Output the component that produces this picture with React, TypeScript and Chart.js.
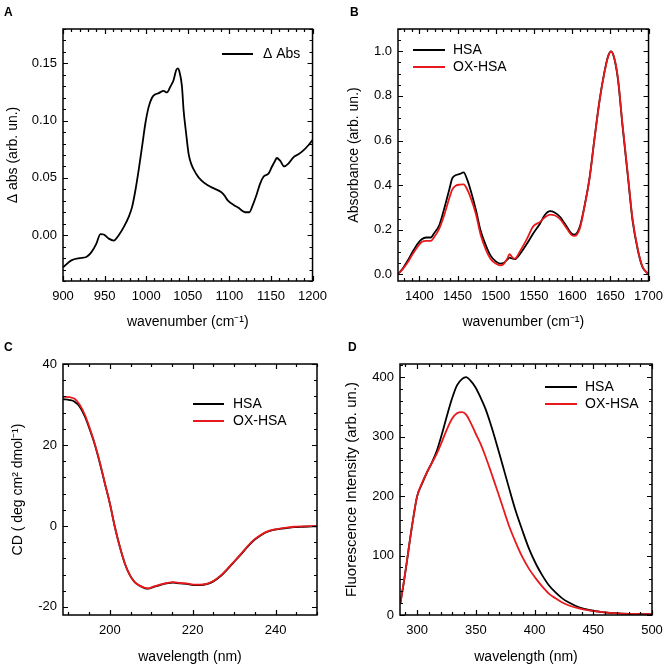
import React, { useEffect, useRef } from "react";
import { Chart, registerables } from "chart.js";

Chart.register(...registerables);

const FONT = "'Liberation Sans', Arial, Helvetica, sans-serif";
Chart.defaults.font.family = FONT;
Chart.defaults.color = "#000000";

const BLACK = "#000000";
const RED = "#e8191c";

// ---------- Panel A : difference spectrum ----------
const aWavenumber = [
  900, 910, 920, 928, 934, 940, 945, 949, 955, 961, 967, 973, 979, 983, 987,
  991, 995, 999, 1003, 1007, 1011, 1015, 1021, 1025, 1029, 1033, 1036, 1038,
  1040, 1043, 1045, 1048, 1051, 1054, 1060, 1066, 1074, 1082, 1090, 1094, 1098,
  1106, 1111, 1115, 1119, 1124, 1128, 1133, 1137, 1141, 1147, 1151, 1155, 1157,
  1161, 1166, 1171, 1177, 1183, 1189, 1195, 1200,
];
const aDeltaAbs = [
  -0.028, -0.022, -0.02, -0.019, -0.015, -0.0076, 0.001, 0.0006, -0.003, -0.0047,
  0.0, 0.007, 0.016, 0.0245, 0.039, 0.057, 0.077, 0.0975, 0.112, 0.12, 0.123,
  0.124, 0.126, 0.1246, 0.1296, 0.1355, 0.144, 0.1457, 0.1427, 0.13, 0.109,
  0.089, 0.071, 0.0625, 0.0537, 0.048, 0.0435, 0.0406, 0.0377, 0.0347, 0.0304,
  0.026, 0.024, 0.0216, 0.02, 0.02, 0.026, 0.036, 0.045, 0.051, 0.0537, 0.0595,
  0.065, 0.0674, 0.065, 0.06, 0.0625, 0.068, 0.0706, 0.074, 0.0785, 0.083,
];
const aXTicks = [900, 950, 1000, 1050, 1100, 1150, 1200];
const aYTicks = [0.0, 0.05, 0.1, 0.15];

// ---------- Panel B : FTIR absorbance ----------
const bWavenumber = [
  1372, 1378, 1385, 1391, 1398, 1403, 1409, 1415, 1419, 1426, 1432, 1439, 1443,
  1448, 1453, 1458, 1462, 1467, 1474, 1480, 1487, 1493, 1500, 1506, 1510, 1515,
  1518, 1522, 1525, 1532, 1541, 1549, 1558, 1564, 1571, 1577, 1584, 1593, 1599,
  1603, 1610, 1616, 1623, 1629, 1636, 1642, 1647, 1651, 1655, 1660, 1666, 1673,
  1679, 1686, 1692, 1700,
];
const bHSA = [
  0.0, 0.025, 0.063, 0.1, 0.138, 0.157, 0.165, 0.165, 0.183, 0.22, 0.288, 0.378,
  0.43, 0.445, 0.45, 0.457, 0.43, 0.378, 0.288, 0.198, 0.13, 0.085, 0.058, 0.048,
  0.05, 0.066, 0.075, 0.07, 0.068, 0.093, 0.138, 0.183, 0.228, 0.265, 0.283,
  0.277, 0.258, 0.213, 0.183, 0.178, 0.213, 0.303, 0.438, 0.603, 0.783, 0.903,
  0.978, 1.0, 0.97, 0.873, 0.663, 0.438, 0.243, 0.108, 0.033, 0.0,
];
const bOXHSA = [
  0.0, 0.022, 0.055, 0.09, 0.125, 0.145, 0.15, 0.15, 0.165, 0.205, 0.26, 0.34,
  0.38, 0.398, 0.402, 0.403, 0.385, 0.345, 0.27, 0.18, 0.11, 0.07, 0.048, 0.04,
  0.045, 0.07, 0.09, 0.075, 0.07, 0.105, 0.16, 0.215, 0.235, 0.255, 0.268, 0.265,
  0.248, 0.205, 0.177, 0.172, 0.205, 0.3, 0.435, 0.6, 0.78, 0.9, 0.975, 1.0,
  0.972, 0.878, 0.67, 0.445, 0.25, 0.112, 0.035, 0.0,
];
const bXTicks = [1400, 1450, 1500, 1550, 1600, 1650, 1700];
const bYTicks = [0.0, 0.2, 0.4, 0.6, 0.8, 1.0];

// ---------- Panel C : circular dichroism ----------
const cWavelength = [
  188.7, 190.3, 191.5, 192.7, 194, 195.2, 196.4, 197.6, 198.8, 200, 201.2, 202.4,
  203.6, 204.8, 206, 207.3, 208.5, 209.3, 210.5, 212.1, 213.7, 215.3, 216.9,
  218.5, 220.2, 221.8, 223.4, 225, 226.6, 228.2, 229.8, 231.5, 233.1, 234.7,
  236.3, 237.9, 239.5, 242, 244.4, 246.8, 250,
];
const cHSA = [
  31.3, 31.1, 30.7, 29.5, 27, 23.7, 20, 15.5, 10.5, 5.6, -0.2, -5.1, -9.2, -12.1,
  -13.9, -14.8, -15.4, -15.5, -15.1, -14.6, -14.2, -14.0, -14.2, -14.3, -14.6,
  -14.6, -14.4, -13.7, -12.5, -10.9, -9.1, -7.2, -5.3, -3.6, -2.4, -1.5, -1.0,
  -0.6, -0.3, -0.2, -0.1,
];
const cOXHSA = [
  31.9, 31.8, 31.4, 30.0, 27.4, 24.0, 20.2, 15.7, 10.6, 5.6, -0.2, -5.1, -9.2,
  -12.1, -13.9, -14.8, -15.3, -15.4, -15.0, -14.5, -14.1, -13.9, -14.1, -14.2,
  -14.5, -14.5, -14.3, -13.6, -12.4, -10.8, -9.0, -7.1, -5.2, -3.5, -2.3, -1.4,
  -0.9, -0.5, -0.2, -0.1, 0.0,
];
const cXTicks = [200, 220, 240];
const cYTicks = [-20, 0, 20, 40];

// ---------- Panel D : fluorescence ----------
const dWavelength = [
  285.8, 288.6, 291.5, 294.3, 297.2, 300, 304.3, 308.5, 312.8, 317, 321.3, 325.6,
  329.8, 334, 338.4, 341.8, 345.5, 349.7, 354, 358.2, 362.5, 366.8, 372.4, 378.1,
  383.8, 389.5, 395.2, 400.9, 406.5, 412.2, 417.9, 423.6, 429.3, 437.8, 446.3,
  457.6, 471.6, 485.8, 500,
];
const dHSA = [
  19.6, 53, 92, 131, 168, 199, 221, 240, 257, 277, 305, 336, 364, 386, 397, 400,
  394, 383, 366, 347, 322, 294, 255, 215, 176, 143, 112, 87, 67, 50, 38, 28, 21,
  13, 8.4, 5, 2.8, 1.7, 1.1,
];
const dOXHSA = [
  19.6, 53, 92, 131, 168, 199, 222, 240, 256, 272, 292, 313, 330, 339, 341, 337,
  324, 306, 288, 267, 243, 218, 185, 151, 123, 98, 78, 62, 48, 36, 28, 21, 16, 11,
  7.8, 5, 2.8, 1.7, 1.1,
];
const dXTicks = [300, 350, 400, 450, 500];
const dYTicks = [0, 100, 200, 300, 400];

// ---------- helpers ----------
function stepValues(min: number, max: number, step: number): number[] {
  const out: number[] = [];
  const start = Math.ceil(min / step - 1e-9);
  for (let i = start; i * step <= max + 1e-9; i++) out.push(+(i * step).toFixed(6));
  return out;
}

const frameTicksPlugin = {
  id: "frameTicks",
  afterDatasetsDraw(chart: any, _args: any, opts: any) {
    const { ctx, chartArea: ca } = chart;
    const xs = chart.scales.x;
    const ys = chart.scales.y;
    const major = 5;
    const minor = 3;
    ctx.save();
    ctx.strokeStyle = "#000";
    ctx.lineWidth = 1.2;
    ctx.beginPath();
    const drawX = (v: number, len: number) => {
      const p = Math.round(xs.getPixelForValue(v)) + 0.5;
      ctx.moveTo(p, ca.bottom);
      ctx.lineTo(p, ca.bottom - len);
      ctx.moveTo(p, ca.top);
      ctx.lineTo(p, ca.top + len);
    };
    const drawY = (v: number, len: number) => {
      const p = Math.round(ys.getPixelForValue(v)) + 0.5;
      ctx.moveTo(ca.left, p);
      ctx.lineTo(ca.left + len, p);
      ctx.moveTo(ca.right, p);
      ctx.lineTo(ca.right - len, p);
    };
    const xMajor = xs.ticks.map((t: any) => t.value);
    const yMajor = ys.ticks.map((t: any) => t.value);
    stepValues(xs.min, xs.max, opts.xMinor).forEach((v) => drawX(v, xMajor.some((m: number) => Math.abs(m - v) < 1e-6) ? major : minor));
    stepValues(ys.min, ys.max, opts.yMinor).forEach((v) => drawY(v, yMajor.some((m: number) => Math.abs(m - v) < 1e-6) ? major : minor));
    ctx.stroke();
    ctx.lineWidth = 1.5;
    ctx.strokeRect(ca.left, ca.top, ca.right - ca.left, ca.bottom - ca.top);
    ctx.restore();
  },
};

const panelLegendPlugin = {
  id: "panelLegend",
  afterDatasetsDraw(chart: any, _args: any, opts: any) {
    const { ctx, chartArea: ca } = chart;
    ctx.save();
    chart.data.datasets.forEach((ds: any, i: number) => {
      const y = ca.top + opts.top + i * opts.rowGap;
      const x0 = ca.left + opts.left;
      ctx.strokeStyle = ds.borderColor;
      ctx.lineWidth = 2;
      ctx.beginPath();
      ctx.moveTo(x0, y);
      ctx.lineTo(x0 + opts.lineLength, y);
      ctx.stroke();
      ctx.fillStyle = "#000";
      ctx.font = `14px ${FONT}`;
      ctx.textBaseline = "middle";
      ctx.textAlign = "left";
      ctx.fillText(ds.label, x0 + opts.lineLength + opts.textGap, y);
    });
    ctx.restore();
  },
};

type PanelSpec = {
  datasets: any[];
  xMin: number; xMax: number; xTicks: number[]; xMinor: number;
  yMin: number; yMax: number; yTicks: number[]; yMinor: number;
  yFmt: (v: number) => string;
  xTitle: string; yTitle: string; yTitleSize: number; yTitlePad: number;
  yWidth: number; xHeight: number; padTop: number; padRight: number;
  legend: { left: number; top: number; rowGap: number; lineLength: number; textGap: number };
};

function line(label: string, xs: number[], ys: number[], color: string, order: number) {
  return {
    label,
    data: xs.map((x, i) => ({ x, y: ys[i] })),
    borderColor: color,
    backgroundColor: color,
    borderWidth: 1.8,
    pointRadius: 0,
    fill: false,
    cubicInterpolationMode: "monotone",
    order,
  };
}

function makeConfig(p: PanelSpec): any {
  return {
    type: "line",
    data: { datasets: p.datasets },
    plugins: [frameTicksPlugin, panelLegendPlugin],
    options: {
      responsive: false,
      animation: false,
      events: [],
      layout: { padding: { top: p.padTop, right: p.padRight, left: 0, bottom: 0 } },
      plugins: {
        legend: { display: false },
        tooltip: { enabled: false },
        frameTicks: { xMinor: p.xMinor, yMinor: p.yMinor },
        panelLegend: p.legend,
      },
      scales: {
        x: {
          type: "linear",
          min: p.xMin,
          max: p.xMax,
          afterBuildTicks: (s: any) => { s.ticks = p.xTicks.map((v) => ({ value: v })); },
          afterFit: (s: any) => { s.height = p.xHeight; },
          grid: { display: false, drawTicks: false },
          border: { display: false },
          ticks: {
            autoSkip: false, maxRotation: 0, padding: 8, color: "#000",
            font: { size: 13, family: FONT },
            callback: (v: any) => String(v),
          },
          title: {
            display: true, text: p.xTitle, color: "#000",
            font: { size: 14, family: FONT },
            padding: { top: 0, bottom: 3 },
          },
        },
        y: {
          type: "linear",
          min: p.yMin,
          max: p.yMax,
          afterBuildTicks: (s: any) => { s.ticks = p.yTicks.map((v) => ({ value: v })); },
          afterFit: (s: any) => { s.width = p.yWidth; },
          grid: { display: false, drawTicks: false },
          border: { display: false },
          ticks: {
            autoSkip: false, padding: 6, color: "#000",
            font: { size: 13, family: FONT },
            callback: (v: any) => p.yFmt(Number(v)),
          },
          title: {
            display: true, text: p.yTitle, color: "#000",
            font: { size: p.yTitleSize, family: FONT },
            padding: { top: p.yTitlePad, bottom: 0 },
          },
        },
      },
    },
  };
}

function Panel({ spec, left, top, width, height }: { spec: PanelSpec; left: number; top: number; width: number; height: number }) {
  const ref = useRef<HTMLCanvasElement>(null);
  useEffect(() => {
    const chart = new Chart(ref.current as HTMLCanvasElement, makeConfig(spec));
    return () => chart.destroy();
  }, []);
  return (
    <div style={{ position: "absolute", left, top, width, height }}>
      <canvas ref={ref} width={width} height={height} style={{ width, height, display: "block" }} />
    </div>
  );
}

const specA: PanelSpec = {
  datasets: [line("\u0394 Abs", aWavenumber, aDeltaAbs, BLACK, 0)],
  xMin: 900, xMax: 1200, xTicks: aXTicks, xMinor: 10,
  yMin: -0.04, yMax: 0.18, yTicks: aYTicks, yMinor: 0.01,
  yFmt: (v) => v.toFixed(2),
  xTitle: "wavenumber (cm\u207B\u00B9)", yTitle: "\u0394 abs (arb. un.)", yTitleSize: 14, yTitlePad: 5,
  yWidth: 63, xHeight: 53, padTop: 29, padRight: 19,
  legend: { left: 159, top: 25, rowGap: 17, lineLength: 31, textGap: 10 },
};

const specB: PanelSpec = {
  datasets: [line("HSA", bWavenumber, bHSA, BLACK, 1), line("OX-HSA", bWavenumber, bOXHSA, RED, 0)],
  xMin: 1372, xMax: 1700, xTicks: bXTicks, xMinor: 10,
  yMin: -0.03, yMax: 1.1, yTicks: bYTicks, yMinor: 0.05,
  yFmt: (v) => v.toFixed(1),
  xTitle: "wavenumber (cm\u207B\u00B9)", yTitle: "Absorbance (arb. un.)", yTitleSize: 14, yTitlePad: 11,
  yWidth: 63, xHeight: 53, padTop: 29, padRight: 19,
  legend: { left: 15, top: 21, rowGap: 17, lineLength: 32, textGap: 8 },
};

const specC: PanelSpec = {
  datasets: [line("HSA", cWavelength, cHSA, BLACK, 1), line("OX-HSA", cWavelength, cOXHSA, RED, 0)],
  xMin: 188.7, xMax: 250, xTicks: cXTicks, xMinor: 5,
  yMin: -22, yMax: 40, yTicks: cYTicks, yMinor: 4,
  yFmt: (v) => String(v),
  xTitle: "wavelength (nm)", yTitle: "CD ( deg cm\u00B2 dmol\u207B\u00B9)", yTitleSize: 14, yTitlePad: 10,
  yWidth: 63, xHeight: 54, padTop: 30, padRight: 18,
  legend: { left: 130, top: 40, rowGap: 17, lineLength: 31, textGap: 9 },
};

const specD: PanelSpec = {
  datasets: [line("HSA", dWavelength, dHSA, BLACK, 1), line("OX-HSA", dWavelength, dOXHSA, RED, 0)],
  xMin: 285.5, xMax: 500, xTicks: dXTicks, xMinor: 10,
  yMin: 0, yMax: 422, yTicks: dYTicks, yMinor: 20,
  yFmt: (v) => String(v),
  xTitle: "wavelength (nm)", yTitle: "Fluorescence Intensity (arb. un.)", yTitleSize: 15, yTitlePad: 8,
  yWidth: 65, xHeight: 54, padTop: 30, padRight: 19,
  legend: { left: 145, top: 23, rowGap: 17, lineLength: 32, textGap: 8 },
};

const letterStyle: React.CSSProperties = {
  position: "absolute",
  fontFamily: FONT,
  fontWeight: "bold",
  fontSize: 12,
  lineHeight: "12px",
  color: "#000",
};

export default function App() {
  return (
    <div style={{ position: "absolute", left: 0, top: 0, width: 671, height: 669, background: "#fff", overflow: "hidden" }}>
      <Panel spec={specA} left={0} top={0} width={335} height={334} />
      <Panel spec={specB} left={335} top={0} width={336} height={334} />
      <Panel spec={specC} left={0} top={334} width={335} height={335} />
      <Panel spec={specD} left={335} top={334} width={336} height={335} />
      <div style={{ ...letterStyle, left: 4, top: 6 }}>A</div>
      <div style={{ ...letterStyle, left: 350, top: 6 }}>B</div>
      <div style={{ ...letterStyle, left: 4, top: 341 }}>C</div>
      <div style={{ ...letterStyle, left: 348, top: 341 }}>D</div>
    </div>
  );
}
